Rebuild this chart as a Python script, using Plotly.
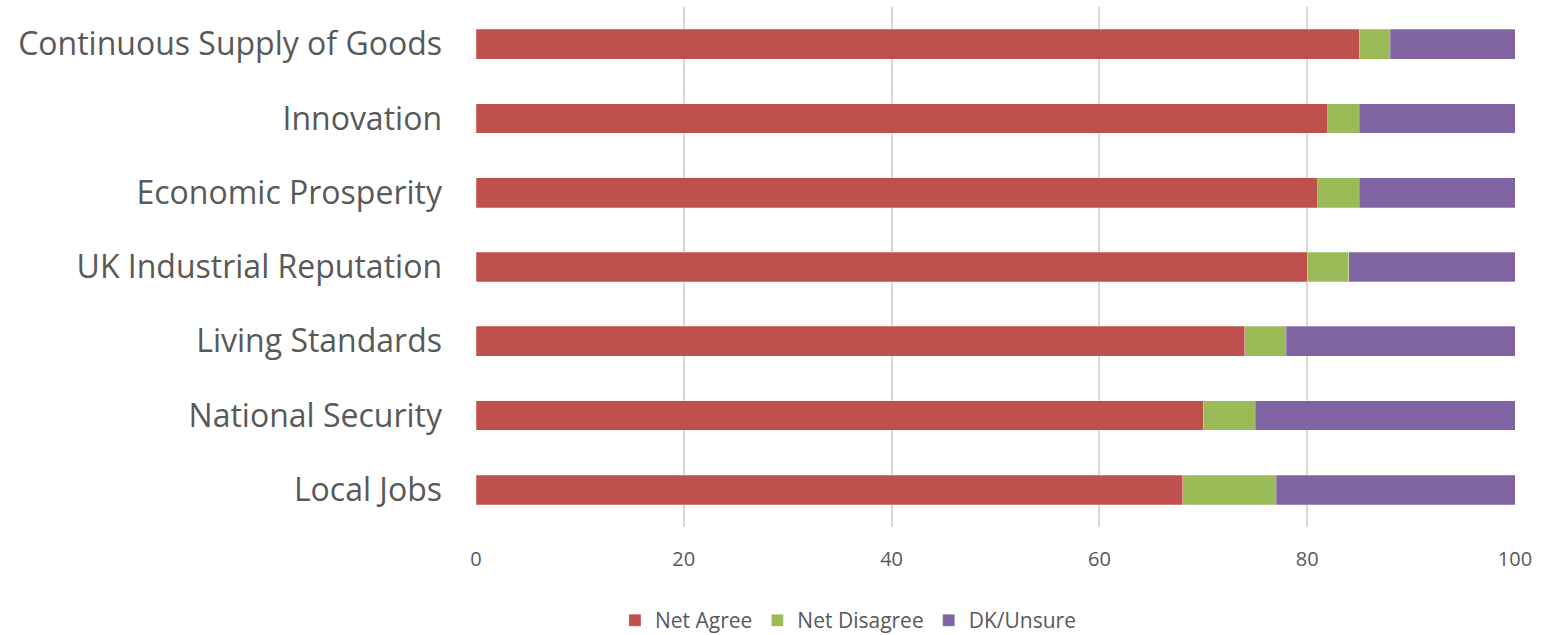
import plotly.graph_objects as go

categories = ["Continuous Supply of Goods", "Innovation", "Economic Prosperity",
              "UK Industrial Reputation", "Living Standards", "National Security", "Local Jobs"]
net_agree = [85, 82, 81, 80, 74, 70, 68]
net_disagree = [3, 3, 4, 4, 4, 5, 9]
dk_unsure = [12, 15, 15, 16, 22, 25, 23]
x_ticks = [0, 20, 40, 60, 80, 100]

series = [("Net Agree", net_agree, "#C0504D"),
          ("Net Disagree", net_disagree, "#9BBB59"),
          ("DK/Unsure", dk_unsure, "#8064A2")]

fig = go.Figure()
for name, vals, col in series:
    fig.add_trace(go.Bar(
        y=categories, x=vals, name=name, orientation="h",
        marker=dict(color=col, line=dict(color="rgba(255,255,255,0.5)", width=0.5)),
        width=0.4,
    ))

fig.update_layout(
    barmode="stack",
    width=1545, height=635,
    margin=dict(l=476, r=30, t=7, b=108, autoexpand=False),
    paper_bgcolor="white", plot_bgcolor="white",
    font=dict(family="Open Sans", color="#595959"),
    showlegend=True,
    legend=dict(orientation="h", x=0.358, xanchor="center", y=-0.18, yanchor="middle",
                font=dict(size=21, color="#595959"), traceorder="normal",
                itemwidth=30, tracegroupgap=0),
    bargap=0.6,
)
fig.update_xaxes(range=[0, 100], tickvals=x_ticks, showgrid=True, gridcolor="#D9D9D9",
                 gridwidth=1.5, zeroline=False, showline=False,
                 tickfont=dict(size=20, color="#595959"), ticks="outside",
                 ticklen=0, ticklabelstandoff=14, automargin=False)
fig.update_yaxes(categoryorder="array", categoryarray=categories[::-1],
                 showgrid=False, zeroline=False, showline=False,
                 tickfont=dict(size=32, color="#595959"), ticklabelstandoff=33,
                 automargin=False)

fig.write_html("out.html")
